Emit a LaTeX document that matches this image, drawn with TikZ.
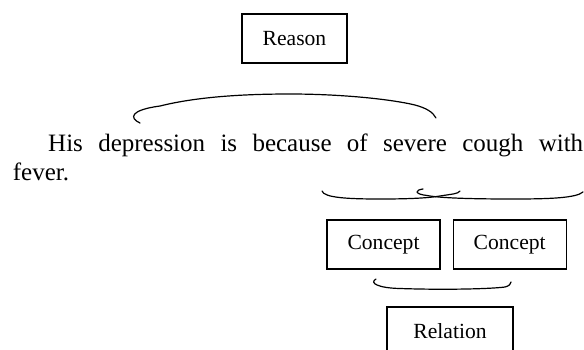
\documentclass[tikz,border=0pt]{standalone}
\usepackage{fontspec}
\setmainfont{Liberation Serif}
\usetikzlibrary{positioning}

\begin{document}
\begin{tikzpicture}[x=1pt, y=-1pt,
  wordbox/.style={draw, line width=1.2pt, inner sep=0pt, minimum height=49pt, font=\fontsize{21.6}{26}\selectfont},
  sentence/.style={anchor=base west, inner sep=0pt, font=\fontsize{25}{29}\selectfont},
  brace/.style={line width=1.2pt, line cap=round}]
  \useasboundingbox (0,0) rectangle (584,349);
  \clip (0,0) rectangle (584,349);

  % Reason on top
  \node[wordbox, minimum width=105pt] (reason) at (294.5,38.5) {Reason};

  % The sentence
  \node[sentence] (lineone) at (48,151) {\makebox[535pt][s]{His depression is because of severe cough with}};
  \node[sentence] (linetwo) at (12.7,180) {fever.};

  % Brace over the sentence
  \draw[brace] (140,123) .. controls (129,118) and (130,110) .. (160,106)
    .. controls (200,96) and (250,94) .. (290,94)
    .. controls (340,94) and (390,99) .. (415,105)
    .. controls (426,108) and (433,112) .. (436,118);

  % Braces under the sentence
  \draw[brace] (322,191) .. controls (324,198) and (350,199) .. (380,199)
    .. controls (410,199) and (428,198) .. (440,196)
    .. controls (452,194) and (458,194) .. (460,191);
  \draw[brace] (423,189) .. controls (415,190) and (414,194) .. (427,195.5)
    .. controls (440,198) and (470,199) .. (513,199)
    .. controls (550,199) and (576,198) .. (583,192);

  % Concepts
  \node[wordbox, minimum width=113pt] (conceptone) at (383.5,244.5) {Concept};
  \node[wordbox, minimum width=113pt, right=12pt of conceptone] (concepttwo) {Concept};

  % Brace under the concepts
  \draw[brace] (376,279) .. controls (369,283) and (378,288) .. (400,288.5)
    .. controls (443,290) and (490,289) .. (505,287)
    .. controls (509,286) and (511,284) .. (511,282);

  % Relation, cut at the bottom
  \node[wordbox, minimum width=126pt] (relation) at (450,331.5) {Relation};
\end{tikzpicture}
\end{document}
